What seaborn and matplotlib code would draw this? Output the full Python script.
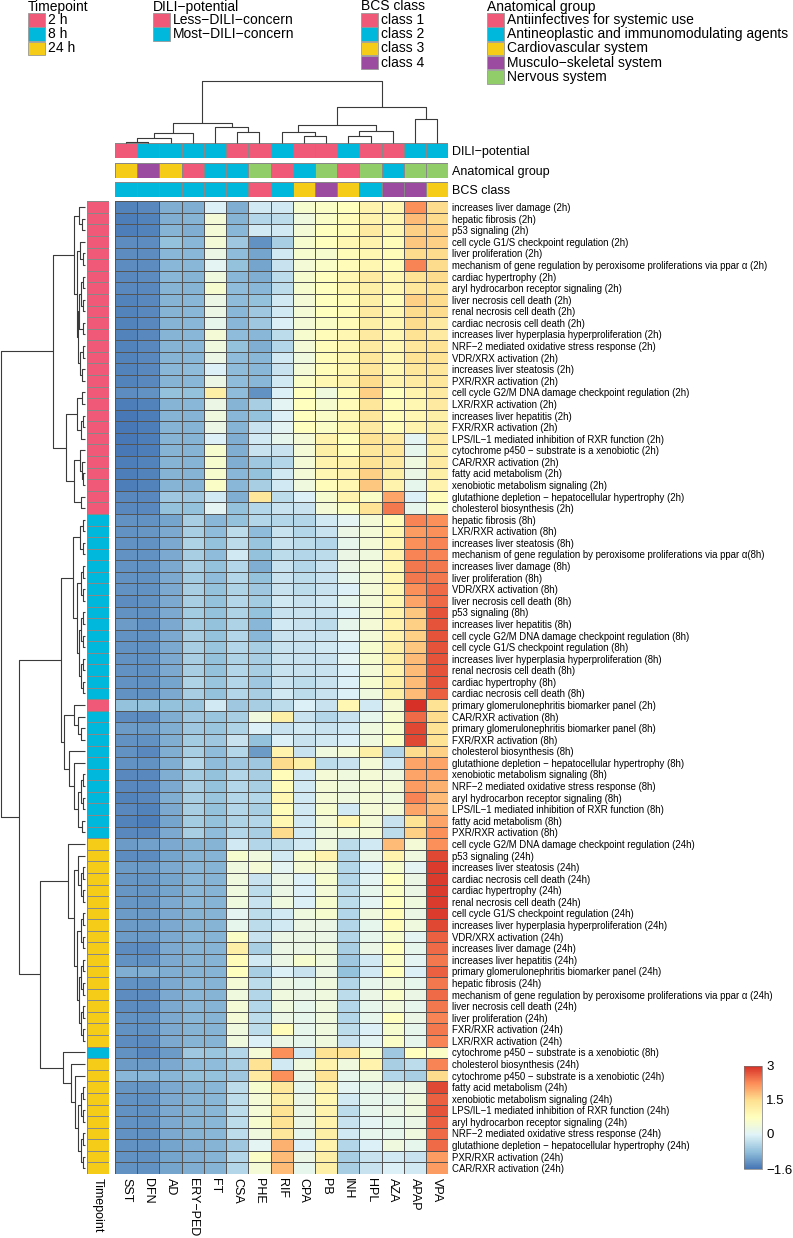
import numpy as np
import pandas as pd
import seaborn as sns
import matplotlib
matplotlib.use("Agg")
import matplotlib.pyplot as plt
from matplotlib.colors import ListedColormap, LinearSegmentedColormap
from matplotlib.patches import Rectangle

plt.rcParams['font.family'] = ['Liberation Sans', 'DejaVu Sans']

# ---- column (drug) annotations ----
drugs = ["SST", "DFN", "AD", "ERY−PED", "FT", "CSA", "PHE", "RIF", "CPA", "PB",
         "INH", "HPL", "AZA", "APAP", "VPA"]
dili = ["Less", "Most", "Most", "Most", "Most", "Less", "Less", "Most", "Less", "Less",
        "Most", "Less", "Less", "Most", "Most"]
anatomical = ["Cardio", "Musculo", "Cardio", "Antiinf", "Antineo", "Antineo", "Nervous",
              "Antiinf", "Antineo", "Nervous", "Antiinf", "Nervous", "Antineo", "Nervous", "Nervous"]
bcs = [2, 2, 2, 2, 2, 2, 1, 2, 3, 4, 3, 2, 4, 4, 3]

# ---- row labels (pathway + time point) ----
row_labels = [
    "increases liver damage (2h)", "hepatic fibrosis (2h)", "p53 signaling (2h)",
    "cell cycle G1/S checkpoint regulation (2h)", "liver proliferation (2h)",
    "mechanism of gene regulation by peroxisome proliferations via ppar α (2h)",
    "cardiac hypertrophy (2h)", "aryl hydrocarbon receptor signaling (2h)",
    "liver necrosis cell death (2h)", "renal necrosis cell death (2h)",
    "cardiac necrosis cell death (2h)", "increases liver hyperplasia hyperproliferation (2h)",
    "NRF−2 mediated oxidative stress response (2h)", "VDR/XRX activation (2h)",
    "increases liver steatosis (2h)", "PXR/RXR activation (2h)",
    "cell cycle G2/M DNA damage checkpoint regulation (2h)", "LXR/RXR activation (2h)",
    "increases liver hepatitis (2h)", "FXR/RXR activation (2h)",
    "LPS/IL−1 mediated inhibition of RXR function (2h)",
    "cytochrome p450 − substrate is a xenobiotic (2h)", "CAR/RXR activation (2h)",
    "fatty acid metabolism (2h)", "xenobiotic metabolism signaling (2h)",
    "glutathione depletion − hepatocellular hypertrophy (2h)", "cholesterol biosynthesis (2h)",
    "hepatic fibrosis (8h)", "LXR/RXR activation (8h)", "increases liver steatosis (8h)",
    "mechanism of gene regulation by peroxisome proliferations via ppar α(8h)",
    "increases liver damage (8h)", "liver proliferation (8h)", "VDR/XRX activation (8h)",
    "liver necrosis cell death (8h)", "p53 signaling (8h)", "increases liver hepatitis (8h)",
    "cell cycle G2/M DNA damage checkpoint regulation (8h)",
    "cell cycle G1/S checkpoint regulation (8h)",
    "increases liver hyperplasia hyperproliferation (8h)", "renal necrosis cell death (8h)",
    "cardiac hypertrophy (8h)", "cardiac necrosis cell death (8h)",
    "primary glomerulonephritis biomarker panel (2h)", "CAR/RXR activation (8h)",
    "primary glomerulonephritis biomarker panel (8h)", "FXR/RXR activation (8h)",
    "cholesterol biosynthesis (8h)", "glutathione depletion − hepatocellular hypertrophy (8h)",
    "xenobiotic metabolism signaling (8h)", "NRF−2 mediated oxidative stress response (8h)",
    "aryl hydrocarbon receptor signaling (8h)",
    "LPS/IL−1 mediated inhibition of RXR function (8h)", "fatty acid metabolism (8h)",
    "PXR/RXR activation (8h)",
    "cell cycle G2/M DNA damage checkpoint regulation (24h)", "p53 signaling (24h)",
    "increases liver steatosis (24h)", "cardiac necrosis cell death (24h)",
    "cardiac hypertrophy (24h)", "renal necrosis cell death (24h)",
    "cell cycle G1/S checkpoint regulation (24h)",
    "increases liver hyperplasia hyperproliferation (24h)", "VDR/XRX activation (24h)",
    "increases liver damage (24h)", "increases liver hepatitis (24h)",
    "primary glomerulonephritis biomarker panel (24h)", "hepatic fibrosis (24h)",
    "mechanism of gene regulation by peroxisome proliferations via ppar α (24h)",
    "liver necrosis cell death (24h)", "liver proliferation (24h)",
    "FXR/RXR activation (24h)", "LXR/RXR activation (24h)",
    "cytochrome p450 − substrate is a xenobiotic (8h)", "cholesterol biosynthesis (24h)",
    "cytochrome p450 − substrate is a xenobiotic (24h)", "fatty acid metabolism (24h)",
    "xenobiotic metabolism signaling (24h)",
    "LPS/IL−1 mediated inhibition of RXR function (24h)",
    "aryl hydrocarbon receptor signaling (24h)",
    "NRF−2 mediated oxidative stress response (24h)",
    "glutathione depletion − hepatocellular hypertrophy (24h)",
    "PXR/RXR activation (24h)", "CAR/RXR activation (24h)",
]
timepoint = [lab.rsplit("(", 1)[1].rstrip(")") for lab in row_labels]

# ---- values (z-scores), rows as above, columns in drug order ----
block_2h = [
    [-1.45, -1.40, -1.00, -1.00, -0.10, -1.00, -0.20, -0.20, 0.50, 0.60, 0.70, 1.00, 0.90, 2.20, 1.50],
    [-1.50, -1.45, -1.00, -0.95, 0.40, -0.95, -0.50, -0.40, 0.30, 0.60, 0.80, 1.00, 0.90, 1.80, 1.50],
    [-1.50, -1.45, -0.95, -1.00, 0.40, -0.90, -0.20, -0.20, 0.40, 0.70, 0.80, 1.20, 0.90, 1.60, 1.60],
    [-1.35, -1.35, -0.80, -0.90, 0.40, -0.70, -1.30, -0.60, 0.50, 0.70, 0.90, 1.00, 0.80, 1.70, 1.60],
    [-1.35, -1.35, -0.90, -0.90, 0.20, -0.85, -1.10, -0.20, 0.50, 0.50, 0.80, 0.90, 0.80, 1.50, 1.50],
    [-1.35, -1.35, -0.90, -0.90, 0.00, -0.80, -1.10, -0.30, 0.40, 0.60, 0.80, 0.90, 0.80, 2.30, 1.50],
    [-1.40, -1.35, -0.90, -0.95, 0.30, -0.90, -1.00, -0.40, 0.50, 0.70, 0.90, 1.20, 0.90, 1.40, 1.50],
    [-1.40, -1.40, -0.95, -0.95, 0.50, -0.85, -0.90, -0.40, 0.50, 0.70, 0.90, 1.10, 0.90, 1.30, 1.40],
    [-1.45, -1.40, -0.95, -0.90, 0.20, -0.85, -0.80, -0.20, 0.40, 0.70, 0.80, 1.10, 0.80, 1.60, 1.50],
    [-1.45, -1.40, -0.95, -0.90, 0.20, -0.90, -0.70, -0.20, 0.40, 0.70, 0.80, 1.20, 0.90, 1.50, 1.50],
    [-1.45, -1.40, -0.95, -0.90, 0.10, -0.90, -0.70, -0.10, 0.40, 0.60, 0.80, 1.10, 0.90, 1.50, 1.20],
    [-1.45, -1.40, -0.95, -0.90, 0.40, -0.85, -0.90, -0.40, 0.50, 0.80, 0.90, 1.20, 0.90, 1.40, 1.20],
    [-1.45, -1.40, -0.95, -0.90, 0.30, -0.80, -1.00, -0.50, 0.40, 0.80, 0.90, 1.20, 0.90, 1.30, 1.40],
    [-1.45, -1.40, -0.95, -0.90, 0.20, -0.85, -0.90, -0.20, 0.30, 0.80, 0.90, 1.30, 0.90, 1.40, 1.40],
    [-1.45, -1.40, -0.90, -0.85, -0.10, -0.85, -0.90, -0.30, 0.40, 0.80, 0.90, 1.30, 0.90, 1.30, 1.30],
    [-1.45, -1.40, -0.95, -0.90, 0.20, -0.85, -0.90, -0.20, 0.60, 0.90, 1.00, 1.50, 1.00, 1.20, 1.30],
    [-1.35, -1.30, -0.80, -0.80, 1.10, -0.85, -1.30, -0.10, 0.70, 0.30, 0.80, 1.60, 0.70, 1.00, 1.20],
    [-1.50, -1.45, -0.95, -0.90, 0.20, -0.95, -0.60, 0.00, 0.70, 0.50, 0.80, 1.30, 0.80, 0.90, 1.20],
    [-1.55, -1.50, -0.95, -0.95, 0.30, -0.90, -0.80, -0.10, 0.70, 0.60, 0.90, 1.30, 0.80, 0.90, 1.10],
    [-1.55, -1.50, -0.95, -0.95, 0.20, -0.95, -0.30, 0.00, 0.70, 0.60, 0.90, 1.20, 0.80, 1.00, 1.10],
    [-1.55, -1.50, -0.95, -0.95, -0.10, -1.00, -0.20, 0.10, 0.40, 1.00, 0.70, 1.40, 1.20, 0.00, 1.20],
    [-1.55, -1.50, -0.95, -0.95, 0.50, -1.00, -0.30, -0.30, 0.40, 1.10, 0.80, 1.30, 1.30, 0.10, 1.10],
    [-1.50, -1.45, -0.95, -0.95, 0.50, -1.00, -0.70, -0.50, 0.40, 1.00, 1.00, 1.40, 1.20, 0.30, 1.20],
    [-1.50, -1.45, -0.95, -0.95, 0.50, -0.90, -0.80, -0.20, 0.40, 0.90, 1.00, 1.60, 1.10, 0.20, 1.10],
    [-1.50, -1.45, -0.95, -0.95, 0.60, -0.90, -0.60, -0.20, 0.30, 0.80, 0.90, 1.70, 1.00, 0.10, 1.00],
    [-1.40, -1.40, -0.70, -0.70, -0.20, -1.00, 1.30, -0.40, -0.10, 0.50, 1.00, 0.60, 2.00, -0.10, 0.80],
    [-1.40, -1.40, -0.80, -0.80, 0.00, -0.80, -0.50, -0.30, -0.30, 0.40, 0.60, 1.40, 2.40, 0.10, 0.60],
]
block_8h = [
    [-1.30, -1.30, -1.10, -0.60, -0.90, -0.80, -0.50, -0.50, -0.50, -0.20, 0.00, 0.40, 0.80, 2.30, 2.20],
    [-1.30, -1.25, -1.05, -0.60, -0.85, -0.40, -0.85, -0.30, -0.50, -0.30, 0.20, 0.40, 0.90, 2.10, 2.20],
    [-1.30, -1.30, -1.05, -0.55, -0.80, -0.40, -0.75, -0.30, -0.40, -0.50, 0.10, 0.40, 0.90, 2.20, 2.30],
    [-1.30, -1.30, -1.05, -0.60, -0.85, -0.20, -0.80, -0.40, -0.50, -0.40, 0.20, 0.30, 1.00, 2.30, 2.30],
    [-1.30, -1.30, -1.05, -0.60, -0.80, -0.50, -1.00, -0.30, -0.50, -0.30, 0.20, 0.40, 0.90, 2.40, 2.40],
    [-1.30, -1.30, -1.05, -0.65, -0.85, -0.50, -0.80, -0.30, -0.40, -0.30, 0.10, 0.40, 0.90, 2.40, 2.40],
    [-1.30, -1.30, -1.05, -0.60, -0.80, -0.55, -0.70, -0.30, -0.40, -0.30, -0.10, 0.40, 0.90, 2.20, 2.50],
    [-1.35, -1.30, -1.05, -0.60, -0.80, -0.50, -0.65, -0.20, -0.30, -0.20, 0.10, 0.40, 0.90, 2.00, 2.50],
    [-1.30, -1.30, -1.05, -0.65, -0.80, -0.55, -0.80, -0.30, -0.30, -0.30, -0.10, 0.40, 1.00, 1.70, 2.70],
    [-1.20, -1.30, -1.05, -0.65, -0.80, -0.55, -0.90, -0.20, -0.30, -0.40, 0.10, 0.40, 1.00, 1.60, 2.70],
    [-1.30, -1.30, -1.05, -0.60, -0.80, -0.50, -0.90, -0.30, -0.30, -0.30, 0.00, 0.40, 1.00, 1.60, 2.70],
    [-1.30, -1.30, -1.05, -0.60, -0.75, -0.50, -0.60, -0.30, -0.30, -0.20, -0.10, 0.50, 1.10, 1.70, 2.70],
    [-1.30, -1.30, -1.05, -0.60, -0.80, -0.55, -0.60, -0.30, -0.30, -0.30, 0.00, 0.50, 1.10, 1.80, 2.70],
    [-1.30, -1.30, -1.05, -0.60, -0.80, -0.50, -0.60, -0.30, -0.30, -0.30, -0.10, 0.40, 1.00, 1.80, 2.70],
    [-1.30, -1.30, -1.10, -0.55, -0.75, -0.50, -0.70, -0.30, -0.40, -0.30, -0.10, 0.50, 1.10, 1.80, 2.70],
    [-1.30, -1.30, -1.05, -0.60, -0.80, -0.50, -0.60, -0.20, -0.40, -0.30, -0.10, 0.30, 1.10, 1.80, 2.60],
    [-0.80, -0.80, -0.80, -0.75, -0.20, -0.70, -0.60, -0.40, -0.10, -0.30, 0.90, -0.20, 0.40, 3.00, 1.40],
    [-1.35, -1.35, -1.00, -0.70, -0.75, -0.60, 0.30, 1.10, -0.30, -0.50, -0.30, 0.10, 0.50, 2.50, 1.50],
    [-1.20, -1.20, -1.00, -0.70, -0.75, -0.55, -0.10, -0.30, -0.20, -0.30, -0.20, 0.30, 0.50, 2.80, 1.40],
    [-1.30, -1.30, -1.00, -0.65, -0.70, -0.30, -0.80, -0.10, -0.30, -0.20, -0.10, 0.30, 0.60, 2.80, 1.40],
    [-1.30, -1.40, -1.00, -0.60, -0.85, -0.50, -1.20, 1.00, -0.30, 0.30, 0.40, 1.10, -0.50, 1.50, 1.60],
    [-1.30, -1.30, -1.00, -0.50, -0.85, -0.70, -0.70, 1.50, 1.10, -0.40, -0.30, 0.40, -0.20, 2.00, 2.00],
    [-1.40, -1.40, -1.00, -0.65, -0.80, -0.50, -0.60, 0.80, -0.20, 0.40, 0.30, 0.40, 0.30, 2.00, 2.00],
    [-1.40, -1.40, -1.05, -0.60, -0.80, -0.50, -0.60, 0.80, -0.20, 0.40, 0.30, 0.40, 0.40, 2.10, 1.90],
    [-1.45, -1.40, -1.00, -0.60, -0.75, -0.50, -0.50, 0.90, -0.20, 0.40, 0.30, 0.40, 0.30, 2.30, 1.80],
    [-1.40, -1.45, -1.05, -0.60, -0.80, -0.50, -0.60, 0.80, -0.20, 0.50, -0.20, 0.40, 0.40, 2.00, 1.80],
    [-1.45, -1.50, -1.10, -0.65, -0.80, -0.55, -0.50, 0.90, -0.20, 0.40, 0.90, 0.40, -0.30, 1.40, 2.00],
    [-1.40, -1.40, -1.05, -0.60, -0.85, -0.50, -0.60, 1.50, -0.20, 0.30, 0.30, 0.40, -0.40, 1.60, 2.20],
]
block_24h = [
    [-1.20, -1.15, -1.05, -0.95, -0.95, -0.20, -0.50, -0.40, -0.20, 0.30, -0.40, -0.20, 1.80, 0.40, 2.20],
    [-1.35, -1.35, -1.10, -0.95, -0.95, 0.50, 0.30, -0.20, 0.50, 1.00, -0.50, 0.20, 1.00, 0.30, 2.80],
    [-1.20, -1.20, -1.05, -0.90, -0.95, 0.30, 0.40, 0.00, 0.40, 0.40, -0.50, -0.10, 0.50, 0.00, 2.90],
    [-1.25, -1.25, -1.10, -0.90, -0.95, 0.30, -0.30, 0.20, -0.10, 0.50, -0.50, 0.00, 0.70, 0.20, 2.90],
    [-1.25, -1.25, -1.10, -0.90, -0.95, 0.30, -0.40, 0.20, -0.10, 0.40, -0.40, 0.10, 0.60, 0.20, 2.90],
    [-1.25, -1.25, -1.05, -0.90, -0.95, 0.30, -0.30, 0.30, -0.10, 0.50, -0.40, 0.00, 0.70, 0.30, 2.90],
    [-1.20, -1.20, -1.05, -0.95, -0.95, 0.00, -0.40, -0.20, 0.30, 0.50, -0.50, 0.30, 0.80, 0.20, 2.90],
    [-1.20, -1.20, -1.05, -0.95, -0.95, 0.10, -0.40, -0.20, 0.20, 0.20, -0.50, 0.10, 0.80, 0.30, 2.80],
    [-1.20, -1.20, -1.05, -0.90, -0.95, 0.60, -0.30, 0.20, 0.20, 0.20, -0.50, 0.10, 0.50, 0.00, 2.60],
    [-1.35, -1.35, -1.05, -0.95, -0.95, 1.10, -0.60, 0.20, 0.20, 0.30, -0.60, 0.20, 0.70, 0.10, 2.50],
    [-1.30, -1.30, -1.05, -0.95, -0.95, 0.80, -0.20, 0.20, 0.50, 0.30, -0.70, -0.20, 0.60, 0.00, 2.40],
    [-1.00, -1.00, -1.00, -0.95, -0.95, 0.70, -0.60, -0.10, -0.30, 0.20, -0.80, -0.20, 0.70, -0.10, 2.60],
    [-1.30, -1.30, -1.05, -0.90, -0.95, 0.40, -0.40, 0.20, 0.10, 0.30, -0.50, 0.10, 0.30, 0.10, 2.40],
    [-1.35, -1.35, -1.05, -0.90, -0.95, 0.30, -0.50, 0.30, 0.20, 0.30, -0.40, 0.20, 0.60, 0.20, 2.50],
    [-1.35, -1.35, -1.05, -0.90, -0.95, 0.40, -0.50, 0.30, 0.10, 0.30, -0.50, 0.10, 0.30, 0.10, 2.40],
    [-1.30, -1.30, -1.05, -0.90, -0.95, 0.40, -0.40, 0.20, 0.10, 0.30, -0.50, 0.10, 0.70, 0.20, 2.30],
    [-1.30, -1.30, -1.05, -0.95, -0.95, 0.30, -0.40, 0.80, 0.10, 0.30, -0.40, -0.10, 0.50, 0.10, 2.40],
    [-1.35, -1.35, -1.05, -0.95, -0.95, 0.30, -0.10, 0.20, 0.10, 0.30, -0.30, 0.00, 0.60, 0.10, 2.30],
    [-1.30, -1.40, -1.20, -0.70, -0.75, -0.50, 0.40, 2.20, -0.20, 1.40, 1.40, 0.50, -0.70, 0.70, 0.60],
    [-1.20, -1.20, -1.05, -0.85, -0.85, -0.60, 1.40, -0.20, 0.30, 1.00, 0.30, 1.00, -0.60, -0.40, 2.30],
    [-0.90, -0.90, -0.90, -0.80, -0.80, -0.70, 1.20, 2.20, 0.20, 1.40, 0.10, 0.30, -0.50, -0.60, 1.50],
    [-1.25, -1.25, -1.05, -0.95, -0.90, -0.40, 0.50, 1.30, 0.10, 1.00, 0.00, 0.10, 0.20, 0.20, 2.80],
    [-1.30, -1.30, -1.05, -0.95, -0.90, -0.40, 0.40, 1.10, 0.20, 0.90, -0.20, 0.10, 0.10, 0.30, 2.60],
    [-1.30, -1.30, -1.05, -0.95, -0.90, -0.40, 0.40, 1.40, 0.20, 1.00, -0.40, 0.10, 0.20, 0.30, 2.70],
    [-1.30, -1.30, -1.05, -0.95, -0.90, -0.40, 0.50, 1.40, 0.20, 1.00, -0.30, 0.00, 0.10, 0.20, 2.60],
    [-1.30, -1.30, -1.05, -0.95, -0.90, -0.40, 0.30, 1.30, 0.10, 1.10, -0.20, 0.10, 0.10, 0.30, 2.50],
    [-1.30, -1.30, -1.10, -1.00, -0.95, -0.70, 0.00, 1.90, -0.10, 1.00, -0.50, -0.10, 0.30, 0.10, 2.50],
    [-1.30, -1.30, -1.10, -1.00, -0.95, -0.50, 0.60, 1.80, 0.20, 1.10, -0.60, -0.30, -0.20, -0.30, 2.10],
    [-1.30, -1.30, -1.10, -1.00, -0.95, -0.50, 0.40, 1.80, 0.10, 1.10, -0.60, -0.30, -0.10, -0.20, 2.10],
]

# ---- dendrograms: (left, right, height), leaves = display index ----
col_tree = (((((0, 1, 1.3), 2, 5.3), 3, 9.7), (4, (5, 6, 11), 16.3), 20.3),
            (((7, (8, 9, 7.3), 10.7), ((10, 11, 7.3), 12, 12), 18), (13, 14, 23.7), 36.3),
            62)

C1 = (0, (1, 2, 3), 6)
C2 = ((3, (4, 5, 2), 5),
      ((((6, 7, 2), (8, 9, 2), 4), (10, 11, 2), 5.5), ((12, 13, 2), (14, 15, 3), 5), 7), 8)
A_low = (((16, 17, 3), ((18, 19, 2), 20, 4), 8),
         ((21, (22, (23, 24, 2), 3), 5), (25, 26, 4), 11), 19)
A = ((C1, C2, 11), A_low, 32)
B1a = (((27, 28, 2), (29, 30, 2), 5),
       (((31, 32, 2), (33, 34, 2), 4),
        (((35, 36, 2), (37, 38, 2), 4), ((39, 40, 2), (41, 42, 2), 4), 6), 8), 12)
B1b = ((43, (44, (45, 46, 4), 7), 11),
       (47, (48, (((49, 50, 2), (51, 52, 2), 4), (53, 54, 3), 7), 11), 16), 21)
B2a = (55, ((56, ((57, 58, 2), (59, 60, 2), 4), 7),
            (((61, 62, 2), (63, 64, 2), 4),
             (((65, 66, 2), (67, 68, 2), 4), ((69, 70, 2), (71, 72, 2), 4), 6), 8), 11), 17)
B2b = (73, (74, (75, (((76, 77, 2), (78, 79, 2), 4), ((80, 81, 2), (82, 83, 2), 4), 7), 10), 14), 22)
row_tree = (A, ((B1a, B1b, 24), (B2a, B2b, 45), 66), 84)

# ---- colours ----
pink, blue, yellow, purple, green = "#F05A78", "#00B7DC", "#F5CD19", "#9B4BA0", "#91CD69"
tp_levels = ["2h", "8h", "24h"]
tp_names = ["2 h", "8 h", "24 h"]
dili_levels = ["Less", "Most"]
dili_names = ["Less−DILI−concern", "Most−DILI−concern"]
bcs_levels = [1, 2, 3, 4]
bcs_names = ["class 1", "class 2", "class 3", "class 4"]
anat_levels = ["Antiinf", "Antineo", "Cardio", "Musculo", "Nervous"]
anat_names = ["Antiinfectives for systemic use", "Antineoplastic and immunomodulating agents",
              "Cardiovascular system", "Musculo−skeletal system", "Nervous system"]

heat_cmap = LinearSegmentedColormap.from_list(
    "rdylbu7", ["#4575B4", "#91BFDB", "#E0F3F8", "#FFFFBF", "#FEE090", "#FC8D59", "#D73027"])

values = np.array(block_2h + block_8h + block_24h)
df = pd.DataFrame(values, index=row_labels, columns=drugs)

W, H = 793, 1238
fig = plt.figure(figsize=(W / 100, H / 100), dpi=100)


def box(x0, y0, x1, y1):
    return [x0 / W, 1 - y1 / H, (x1 - x0) / W, (y1 - y0) / H]


edge = "#555555"

# main heatmap + colour key
ax_hm = fig.add_axes(box(115, 201.3, 448.3, 1174))
ax_cb = fig.add_axes(box(744, 1066, 762, 1169))
sns.heatmap(df, ax=ax_hm, cmap=heat_cmap, vmin=-1.6, vmax=3, linewidths=0.6, linecolor=edge,
            cbar_ax=ax_cb, xticklabels=drugs, yticklabels=row_labels)
ax_hm.yaxis.tick_right()
ax_hm.set_yticklabels(row_labels, rotation=0, fontsize=6.9, ha="left")
ax_hm.set_xticklabels(drugs, rotation=270, fontsize=9, va="top", ha="center")
ax_hm.tick_params(length=0, pad=3)
ax_hm.set_xlabel("")
ax_hm.set_ylabel("")

cbar = ax_hm.collections[0].colorbar
cbar.set_ticks([-1.6, 0, 1.5, 3])
cbar.set_ticklabels(["−1.6", "0", "1.5", "3"])
cbar.ax.tick_params(length=0, pad=3, labelsize=9.5)
cbar.outline.set_linewidth(0.5)
cbar.outline.set_edgecolor("#777777")

# timepoint row annotation
ax_tp = fig.add_axes(box(87.3, 201.3, 109, 1174))
tp_codes = np.array([tp_levels.index(t) for t in timepoint]).reshape(-1, 1)
sns.heatmap(tp_codes, ax=ax_tp, cmap=ListedColormap([pink, blue, yellow]), vmin=-0.5, vmax=2.5,
            cbar=False, linewidths=0.6, linecolor="#888888", xticklabels=["Timepoint"],
            yticklabels=False)
ax_tp.set_xticklabels(["Timepoint"], rotation=270, fontsize=9, va="top", ha="center")
ax_tp.tick_params(length=0, pad=3)

# column annotations
col_annots = [
    ("DILI−potential", [dili_levels.index(v) for v in dili], [pink, blue]),
    ("Anatomical group", [anat_levels.index(v) for v in anatomical], [pink, blue, yellow, purple, green]),
    ("BCS class", [bcs_levels.index(v) for v in bcs], [pink, blue, yellow, purple]),
]
strip_top, strip_h, strip_gap = 143, 15, 4.5
for i, (name, codes, cols) in enumerate(col_annots):
    y0 = strip_top + i * (strip_h + strip_gap)
    ax_a = fig.add_axes(box(115, y0, 448.3, y0 + strip_h))
    sns.heatmap(np.array(codes).reshape(1, -1), ax=ax_a, cmap=ListedColormap(cols),
                vmin=-0.5, vmax=len(cols) - 0.5, cbar=False, linewidths=0.6,
                linecolor="#888888", xticklabels=False, yticklabels=[name])
    ax_a.yaxis.tick_right()
    ax_a.set_yticklabels([name], rotation=0, fontsize=9, ha="left")
    ax_a.tick_params(length=0, pad=3)


# dendrograms
def draw_tree(ax, node, rows):
    if isinstance(node, int):
        return node + 0.5, 0.0
    left, right, h = node
    p1, h1 = draw_tree(ax, left, rows)
    p2, h2 = draw_tree(ax, right, rows)
    pos = [p1, p1, p2, p2]
    hts = [h1, h, h, h2]
    if rows:
        ax.plot(hts, pos, color="#3a3a3a", lw=0.8, clip_on=False, solid_capstyle="butt")
    else:
        ax.plot(pos, hts, color="#3a3a3a", lw=0.8, clip_on=False, solid_capstyle="butt")
    return (p1 + p2) / 2, h


ax_cd = fig.add_axes(box(115, 81, 448.3, 143))
draw_tree(ax_cd, col_tree, rows=False)
ax_cd.set_xlim(0, len(drugs))
ax_cd.set_ylim(0, 62)
ax_cd.axis("off")

ax_rd = fig.add_axes(box(0.5, 201.3, 84.5, 1174))
draw_tree(ax_rd, row_tree, rows=True)
ax_rd.set_xlim(84, 0)
ax_rd.set_ylim(len(row_labels), 0)
ax_rd.axis("off")

# legends along the top
ax_lg = fig.add_axes([0, 0, 1, 1], zorder=-1)
ax_lg.set_xlim(0, W)
ax_lg.set_ylim(H, 0)
ax_lg.axis("off")
legends = [
    ("Timepoint", tp_names, [pink, blue, yellow], 28),
    ("DILI−potential", dili_names, [pink, blue], 153),
    ("BCS class", bcs_names, [pink, blue, yellow, purple], 361),
    ("Anatomical group", anat_names, [pink, blue, yellow, purple, green], 487),
]
for title, names, cols, x0 in legends:
    ax_lg.text(x0, 6.5, title, fontsize=10, va="center", ha="left")
    for j, (nm, c) in enumerate(zip(names, cols)):
        yc = 20 + j * 14.2
        ax_lg.add_patch(Rectangle((x0, yc - 6.8), 17, 13.6, facecolor=c,
                                  edgecolor="#999999", lw=0.6))
        ax_lg.text(x0 + 20, yc, nm, fontsize=10, va="center", ha="left")

fig.savefig("out.png", dpi=100)
